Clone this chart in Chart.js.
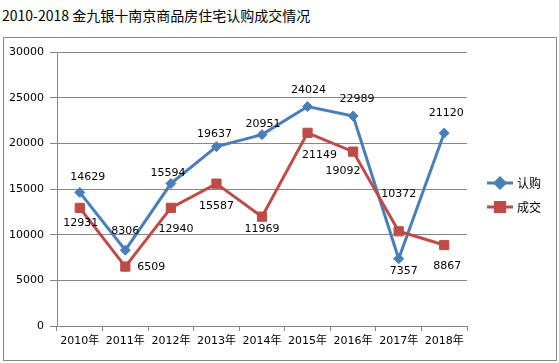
<!DOCTYPE html>
<html>
<head>
<meta charset="utf-8">
<script src="https://cdn.jsdelivr.net/npm/chart.js@4.4.0/dist/chart.umd.min.js"></script>
<style>
body { margin: 0; background: #fff; width: 559px; height: 363px; overflow: hidden; position: relative; }
#title { position: absolute; left: 2px; top: 5px; font-size: 14px; font-family: "Noto Sans CJK SC", sans-serif; color: #000; white-space: nowrap; }
#frame { position: absolute; left: 3px; top: 37px; width: 554px; height: 324px; box-sizing: border-box; border: 1px solid #868686; }
#chartBox { position: absolute; left: 0; top: 0; width: 559px; height: 363px; }
</style>
</head>
<body>
<div id="title">2010-2018 金九银十南京商品房住宅认购成交情况</div>
<div id="frame"></div>
<div id="chartBox"><canvas id="salesChart"></canvas></div>
<script>
const years = ["2010年", "2011年", "2012年", "2013年", "2014年", "2015年", "2016年", "2017年", "2018年"];
const subscribed = [14629, 8306, 15594, 19637, 20951, 24024, 22989, 7357, 21120];
const closed = [12931, 6509, 12940, 15587, 11969, 21149, 19092, 10372, 8867];
const seriesNames = ["认购", "成交"];

const blue = "#4a7ebb";
const red = "#be4b48";
const gridGray = "#868686";
const font = "\"DejaVu Sans\", \"Noto Sans CJK SC\", sans-serif";

// label offsets from each point, roughly where excel put them
const labelShift = [
    [[8, -15], [0, -19], [-3, -10], [-2, -13], [1, -11], [1, -16], [4, -17], [5, 12], [2, -20]],
    [[1, 15], [26, 1], [5, 21], [0, 23], [0, 12], [12, 22], [-10, 20], [0, -37], [3, 21]]
];

const pointLabels = {
    id: "pointLabels",
    afterDatasetsDraw(chart) {
        const ctx = chart.ctx;
        ctx.save();
        ctx.font = "11px " + font;
        ctx.fillStyle = "#000";
        ctx.textAlign = "center";
        ctx.textBaseline = "middle";
        chart.data.datasets.forEach((ds, i) => {
            const meta = chart.getDatasetMeta(i);
            meta.data.forEach((pt, j) => {
                const s = labelShift[i][j];
                ctx.fillText(ds.data[j], pt.x + s[0], pt.y + s[1]);
            });
        });
        ctx.restore();
    }
};

const sideLegend = {
    id: "sideLegend",
    afterDraw(chart) {
        const ctx = chart.ctx;
        ctx.save();
        chart.data.datasets.forEach((ds, i) => {
            const y = 183 + i * 24;
            ctx.strokeStyle = ds.borderColor;
            ctx.lineWidth = 3;
            ctx.beginPath();
            ctx.moveTo(487, y);
            ctx.lineTo(513, y);
            ctx.stroke();
            Chart.helpers.drawPoint(ctx, {
                pointStyle: ds.pointStyle,
                radius: ds.pointRadius,
                borderWidth: 1
            }, 500, y);
            ctx.fillStyle = ds.backgroundColor;
            ctx.fill();
            ctx.fillStyle = "#000";
            ctx.font = "12px \"Noto Sans CJK SC\"";
            ctx.textBaseline = "middle";
            ctx.fillText(ds.label, 517, y);
        });
        ctx.restore();
    }
};

new Chart(document.getElementById("salesChart"), {
    type: "line",
    data: {
        labels: years,
        datasets: [{
            label: seriesNames[0],
            data: subscribed,
            borderColor: blue,
            backgroundColor: blue,
            borderWidth: 3,
            pointStyle: "rectRot",
            pointRadius: 5,
            pointBorderWidth: 1,
            tension: 0,
            order: 1
        }, {
            label: seriesNames[1],
            data: closed,
            borderColor: red,
            backgroundColor: red,
            borderWidth: 3,
            pointStyle: "rect",
            pointRadius: 6.5,
            pointBorderWidth: 1,
            tension: 0,
            order: 0
        }]
    },
    options: {
        responsive: true,
        maintainAspectRatio: false,
        animation: false,
        layout: { padding: { top: 52, right: 92, bottom: 4, left: 0 } },
        plugins: {
            legend: { display: false },
            tooltip: { enabled: false }
        },
        scales: {
            x: {
                offset: true,
                afterFit(scale) { scale.height = 33; },
                grid: { display: true, drawOnChartArea: false, offset: true, tickLength: 5, color: gridGray },
                border: { display: true, color: gridGray },
                ticks: { color: "#000", font: { size: 11, family: font }, padding: 4, maxRotation: 0, autoSkip: false }
            },
            y: {
                min: 0,
                max: 30000,
                afterFit(scale) { scale.width = 57; },
                grid: { color: gridGray, tickLength: 7 },
                border: { display: true, color: gridGray },
                ticks: {
                    stepSize: 5000,
                    color: "#000",
                    font: { size: 11, family: font },
                    padding: 6,
                    callback: value => String(value)
                }
            }
        }
    },
    plugins: [pointLabels, sideLegend]
});
</script>
</body>
</html>
